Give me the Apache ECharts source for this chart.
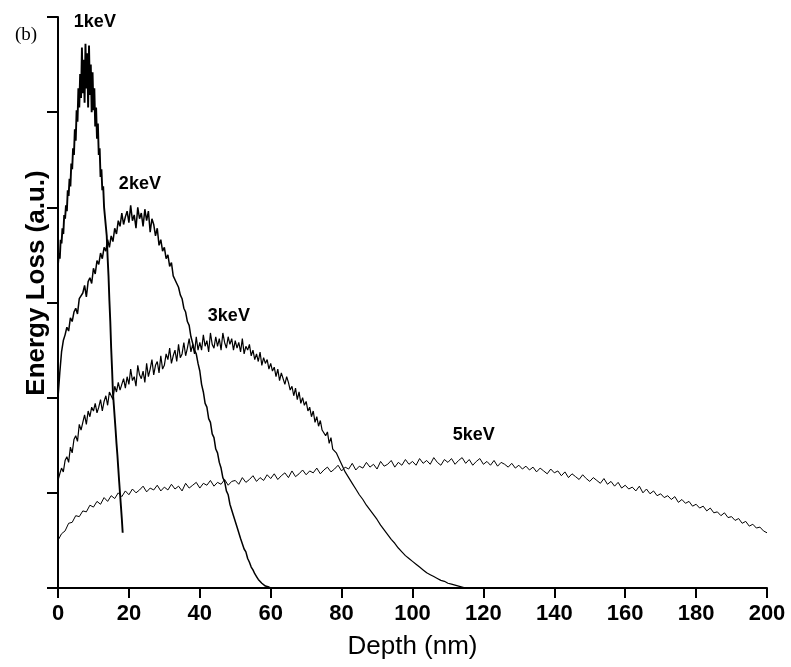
<!DOCTYPE html>
<html>
<head>
<meta charset="utf-8">
<script src="https://cdn.jsdelivr.net/npm/echarts@6/dist/echarts.min.js"></script>
<style>
html,body{margin:0;padding:0;background:#fff;}
#chart{width:791px;height:667px;}
</style>
</head>
<body>
<div id="chart"></div>
<script>
// Depth step (nm) between consecutive samples of each curve
const step1keV = 0.25;
const step2keV = 0.5;
const step3keV = 0.5;
const step5keV = 1;

// Energy loss values (a.u.)
const loss1keV = [
  3.40,3.52,3.46,3.66,3.62,3.78,3.72,3.92,
  3.88,4.02,3.96,4.18,4.12,4.30,4.22,4.46,
  4.40,4.62,4.55,4.82,4.70,5.02,4.90,5.25,
  5.05,5.40,5.15,5.68,5.20,5.55,5.10,5.72,
  5.25,5.62,5.05,5.70,5.18,5.50,5.00,5.42,
  5.02,5.25,4.85,5.05,4.72,4.88,4.55,4.62,
  4.32,4.40,4.18,4.22,4.00,3.98,3.80,3.70,
  3.47,3.28,3.02,2.80,2.52,2.30,2.05,1.92,
  1.79,1.66,1.52,1.40,1.26,1.12,0.99,0.86,
  0.73,0.58
];
const loss2keV = [
  2.00,2.26,2.48,2.60,2.66,2.74,2.70,2.84,2.80,2.90,
  2.94,2.88,3.04,3.02,3.10,3.18,3.06,3.22,3.26,3.20,
  3.36,3.30,3.44,3.40,3.52,3.46,3.58,3.54,3.66,3.58,
  3.70,3.64,3.78,3.72,3.86,3.80,3.94,3.82,3.90,3.96,
  3.84,4.02,3.86,3.92,3.78,4.00,3.88,3.94,3.80,3.98,
  3.86,3.96,3.74,3.88,3.82,3.70,3.78,3.60,3.66,3.54,
  3.58,3.46,3.50,3.38,3.42,3.28,3.30,3.20,3.16,3.08,
  3.04,2.94,2.90,2.80,2.76,2.64,2.62,2.50,2.46,2.36,
  2.28,2.14,2.06,1.94,1.90,1.78,1.74,1.62,1.58,1.46,
  1.42,1.32,1.26,1.16,1.12,1.02,0.98,0.88,0.86,0.76,
  0.74,0.64,0.62,0.52,0.50,0.41,0.38,0.31,0.27,0.22,
  0.19,0.15,0.12,0.09,0.07,0.05,0.04,0.02,0.02,0.01,
  0.00
];
const loss3keV = [
  1.13,1.20,1.26,1.22,1.34,1.38,1.32,1.48,1.42,1.56,
  1.60,1.54,1.72,1.66,1.74,1.82,1.72,1.86,1.80,1.90,
  1.86,1.94,1.84,1.90,1.98,1.86,1.96,2.02,1.92,2.06,
  2.04,1.98,2.12,2.06,2.16,2.08,2.14,2.20,2.10,2.22,
  2.14,2.30,2.18,2.22,2.12,2.34,2.24,2.20,2.28,2.16,
  2.36,2.22,2.30,2.40,2.24,2.34,2.38,2.26,2.44,2.30,
  2.34,2.46,2.40,2.52,2.36,2.44,2.50,2.38,2.56,2.42,
  2.46,2.58,2.44,2.52,2.62,2.48,2.56,2.46,2.64,2.50,
  2.58,2.50,2.66,2.54,2.60,2.48,2.68,2.56,2.52,2.64,
  2.54,2.62,2.50,2.68,2.58,2.52,2.64,2.56,2.62,2.50,
  2.60,2.52,2.58,2.48,2.62,2.46,2.54,2.50,2.56,2.44,
  2.50,2.40,2.46,2.38,2.48,2.34,2.42,2.36,2.40,2.30,
  2.36,2.28,2.32,2.22,2.30,2.18,2.26,2.20,2.14,2.22,
  2.16,2.08,2.12,2.02,2.10,1.98,2.06,1.94,2.00,1.92,
  1.96,1.86,1.90,1.80,1.86,1.74,1.80,1.70,1.76,1.66,
  1.68,1.60,1.64,1.52,1.58,1.46,1.48,1.42,1.40,1.34,
  1.30,1.30,1.22,1.24,1.16,1.17,1.10,1.11,1.04,1.04,
  0.98,0.99,0.93,0.93,0.87,0.88,0.82,0.82,0.77,0.77,
  0.72,0.72,0.66,0.67,0.61,0.62,0.56,0.57,0.51,0.52,
  0.47,0.47,0.42,0.43,0.38,0.39,0.34,0.35,0.31,0.31,
  0.28,0.27,0.25,0.24,0.22,0.21,0.19,0.19,0.16,0.16,
  0.14,0.14,0.12,0.11,0.10,0.10,0.08,0.08,0.07,0.06,
  0.05,0.05,0.04,0.03,0.03,0.02,0.02,0.01,0.01,0.01,
  0.00
];
const loss5keV = [
  0.50,0.57,0.60,0.68,0.69,0.76,0.75,0.81,0.80,0.87,
  0.85,0.91,0.88,0.95,0.91,0.97,0.94,1.00,0.96,1.02,
  0.98,1.04,1.00,1.03,1.07,1.01,1.05,1.03,1.08,1.02,
  1.06,1.03,1.09,1.04,1.07,1.02,1.10,1.05,1.08,1.11,
  1.05,1.10,1.08,1.13,1.07,1.11,1.09,1.14,1.08,1.12,
  1.13,1.09,1.16,1.11,1.14,1.18,1.12,1.16,1.13,1.19,
  1.15,1.20,1.14,1.18,1.21,1.16,1.23,1.17,1.20,1.24,
  1.19,1.23,1.21,1.26,1.20,1.24,1.27,1.22,1.25,1.29,
  1.23,1.27,1.25,1.31,1.24,1.28,1.26,1.32,1.27,1.30,
  1.25,1.33,1.28,1.30,1.34,1.27,1.32,1.29,1.35,1.30,
  1.33,1.29,1.36,1.31,1.34,1.30,1.37,1.32,1.29,1.35,
  1.32,1.36,1.30,1.34,1.37,1.31,1.35,1.29,1.33,1.36,
  1.30,1.33,1.29,1.34,1.28,1.32,1.30,1.27,1.31,1.26,
  1.29,1.25,1.28,1.24,1.27,1.22,1.26,1.23,1.20,1.25,
  1.21,1.23,1.18,1.22,1.16,1.20,1.17,1.14,1.19,1.15,
  1.12,1.16,1.13,1.10,1.15,1.09,1.12,1.07,1.11,1.05,
  1.08,1.04,1.06,1.02,1.07,1.00,1.04,0.99,1.02,0.97,
  0.99,0.95,0.97,0.93,0.96,0.90,0.93,0.89,0.91,0.86,
  0.88,0.84,0.86,0.81,0.84,0.79,0.80,0.76,0.79,0.74,
  0.75,0.71,0.73,0.68,0.70,0.65,0.67,0.63,0.64,0.60,
  0.58
];

// Curve labels and their anchor positions (depth nm, energy loss a.u.)
const curveNames = ['1keV','2keV','3keV','5keV'];
const labelDepth = [10.4, 23.1, 48.2, 117.3];
const labelLoss  = [5.95, 4.25, 2.86, 1.61];

const xTicks = {min:0, max:200, interval:20};
const yTicks = {min:0, max:6, interval:1};

function toPairs(vals, step){
  return vals.map((v,i)=>[+(i*step).toFixed(3), v]);
}

const FONT = '"Liberation Sans", Arial, sans-serif';
const chart = echarts.init(document.getElementById('chart'), null, {renderer:'canvas'});

const seriesDefs = [
  {vals: loss1keV, step: step1keV, w: 1.9},
  {vals: loss2keV, step: step2keV, w: 1.5},
  {vals: loss3keV, step: step3keV, w: 1.2},
  {vals: loss5keV, step: step5keV, w: 1.0}
];

const series = seriesDefs.map((d, k)=>({
  type:'line',
  name: curveNames[k],
  data: toPairs(d.vals, d.step),
  showSymbol:false,
  symbol:'none',
  lineStyle:{color:'#000', width:d.w},
  silent:true,
  clip:false,
  markPoint:{
    symbol:'circle', symbolSize:0, silent:true,
    data:[{coord:[labelDepth[k], labelLoss[k]], value:curveNames[k]}],
    label:{show:true, position:'inside', formatter:curveNames[k],
      color:'#000', fontFamily:FONT, fontWeight:'bold', fontSize:18}
  }
}));

chart.setOption({
  animation:false,
  backgroundColor:'#fff',
  grid:{left:58, right:24, top:17, bottom:79, containLabel:false},
  xAxis:{
    type:'value', min:xTicks.min, max:xTicks.max, interval:xTicks.interval,
    name:'Depth (nm)', nameLocation:'middle', nameGap:46,
    nameTextStyle:{color:'#000', fontFamily:FONT, fontSize:26},
    axisLine:{show:true, onZero:false, lineStyle:{color:'#000', width:2}},
    axisTick:{show:true, inside:false, length:10, lineStyle:{color:'#000', width:2}},
    axisLabel:{color:'#000', fontFamily:FONT, fontWeight:'bold', fontSize:22, margin:15},
    splitLine:{show:false}
  },
  yAxis:{
    type:'value', min:yTicks.min, max:yTicks.max, interval:yTicks.interval,
    axisLine:{show:true, onZero:false, lineStyle:{color:'#000', width:2}},
    axisTick:{show:true, inside:false, length:11, lineStyle:{color:'#000', width:2}},
    axisLabel:{show:false},
    splitLine:{show:false}
  },
  graphic:[
    {type:'text', x:37, y:283, rotation:Math.PI/2, silent:true,
     style:{text:'Energy Loss (a.u.)', fill:'#000', font:'bold 26px "Liberation Sans", Arial, sans-serif',
            textAlign:'center', textVerticalAlign:'middle'}},
    {type:'text', x:26, y:35, silent:true,
     style:{text:'(b)', fill:'#000', font:'19px "Liberation Serif", "Times New Roman", serif',
            textAlign:'center', textVerticalAlign:'middle'}}
  ],
  series: series
});
</script>
</body>
</html>
